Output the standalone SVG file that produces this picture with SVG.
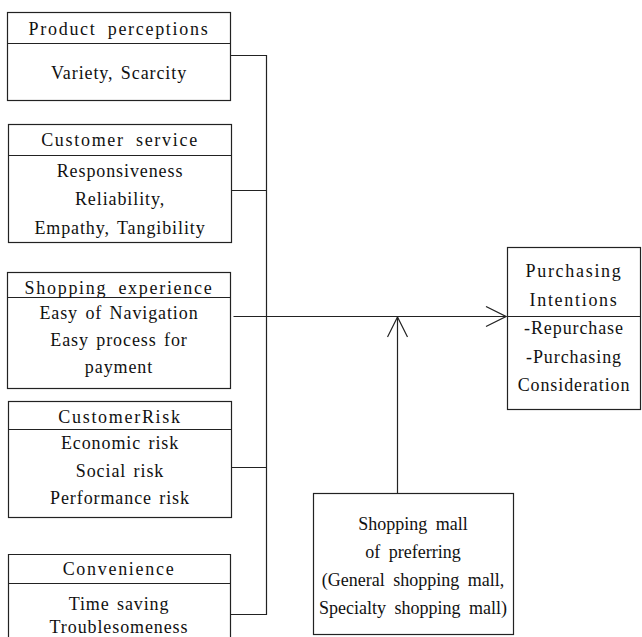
<svg xmlns="http://www.w3.org/2000/svg" width="642" height="637" viewBox="0 0 642 637">
<defs>
<style>
rect,.box{fill:none;stroke:#222;stroke-width:1.2}
.div{stroke:#222;stroke-width:1.2}
.conn{fill:none;stroke:#222;stroke-width:1.2}
text{font-family:"Liberation Serif","Times New Roman",serif;font-size:18px;fill:#111;text-anchor:middle}
.t{letter-spacing:1.7px;word-spacing:5px}
.b{letter-spacing:0.9px;word-spacing:2px}
.m{word-spacing:4px}
</style>
<marker id="arr" viewBox="0 0 22 22" refX="21" refY="11" markerWidth="22" markerHeight="22" markerUnits="userSpaceOnUse" orient="auto">
<path d="M1,1 L21,11 L1,21" fill="none" stroke="#222" stroke-width="1.2"/>
</marker>
</defs>
<rect x="0" y="0" width="642" height="637" style="fill:#fff;stroke:none"/>

<g id="product-perceptions">
<rect x="7.5" y="12.5" width="223" height="88"/>
<line class="div" x1="7.5" y1="43.5" x2="230.5" y2="43.5"/>
<text class="t" x="119" y="35">Product perceptions</text>
<text class="b" x="119" y="79">Variety, Scarcity</text>
</g>

<g id="customer-service">
<rect x="8.5" y="124.5" width="223" height="118"/>
<line class="div" x1="8.5" y1="155.5" x2="231.5" y2="155.5"/>
<text class="t" x="120" y="146">Customer service</text>
<text class="b" x="120" y="177">Responsiveness</text>
<text class="b" x="120" y="205">Reliability,</text>
<text class="b" x="120" y="234">Empathy, Tangibility</text>
</g>

<g id="shopping-experience">
<rect x="7.5" y="272.5" width="223" height="116"/>
<line class="div" x1="7.5" y1="297.5" x2="230.5" y2="297.5"/>
<text class="t" x="119" y="294">Shopping experience</text>
<text class="b" x="119" y="319">Easy of Navigation</text>
<text class="b" x="119" y="346">Easy process for</text>
<text class="b" x="119" y="373">payment</text>
</g>

<g id="customer-risk">
<rect x="8.5" y="401.5" width="223" height="116"/>
<line class="div" x1="8.5" y1="429.5" x2="231.5" y2="429.5"/>
<text class="t" x="120" y="423">CustomerRisk</text>
<text class="b" x="120" y="449">Economic risk</text>
<text class="b" x="120" y="477">Social risk</text>
<text class="b" x="120" y="504">Performance risk</text>
</g>

<g id="convenience">
<path class="box" d="M8.5,637 V554.5 H230.5 V637"/>
<line class="div" x1="8.5" y1="583.5" x2="230.5" y2="583.5"/>
<text class="t" x="119" y="575">Convenience</text>
<text class="b" x="119" y="610">Time saving</text>
<text class="b" x="119" y="633">Troublesomeness</text>
</g>

<g id="purchasing-intentions">
<rect x="507.5" y="247.5" width="133" height="162"/>
<line class="div" x1="507.5" y1="316.5" x2="640.5" y2="316.5"/>
<text class="t" x="574" y="277">Purchasing</text>
<text class="t" x="574" y="306">Intentions</text>
<text class="b" x="574" y="334">-Repurchase</text>
<text class="b" x="574" y="363">-Purchasing</text>
<text class="b" x="574" y="391">Consideration</text>
</g>

<g id="shopping-mall">
<rect x="313.5" y="493.5" width="200" height="141"/>
<text class="m" x="413" y="530">Shopping mall</text>
<text class="m" x="413" y="558">of preferring</text>
<text class="m" x="413" y="586">(General shopping mall,</text>
<text class="m" x="413" y="614">Specialty shopping mall)</text>
</g>

<g id="connectors">
<path class="conn" d="M230.5,55.5 H266.5 V614.5 H230.5"/>
<path class="conn" d="M231.5,190.5 H266.5"/>
<path class="conn" d="M231.5,467.5 H266.5"/>
<path class="conn" d="M233.5,316.5 H506" marker-end="url(#arr)"/>
<path class="conn" d="M397.5,493.5 V317" marker-end="url(#arr)"/>
</g>
</svg>
